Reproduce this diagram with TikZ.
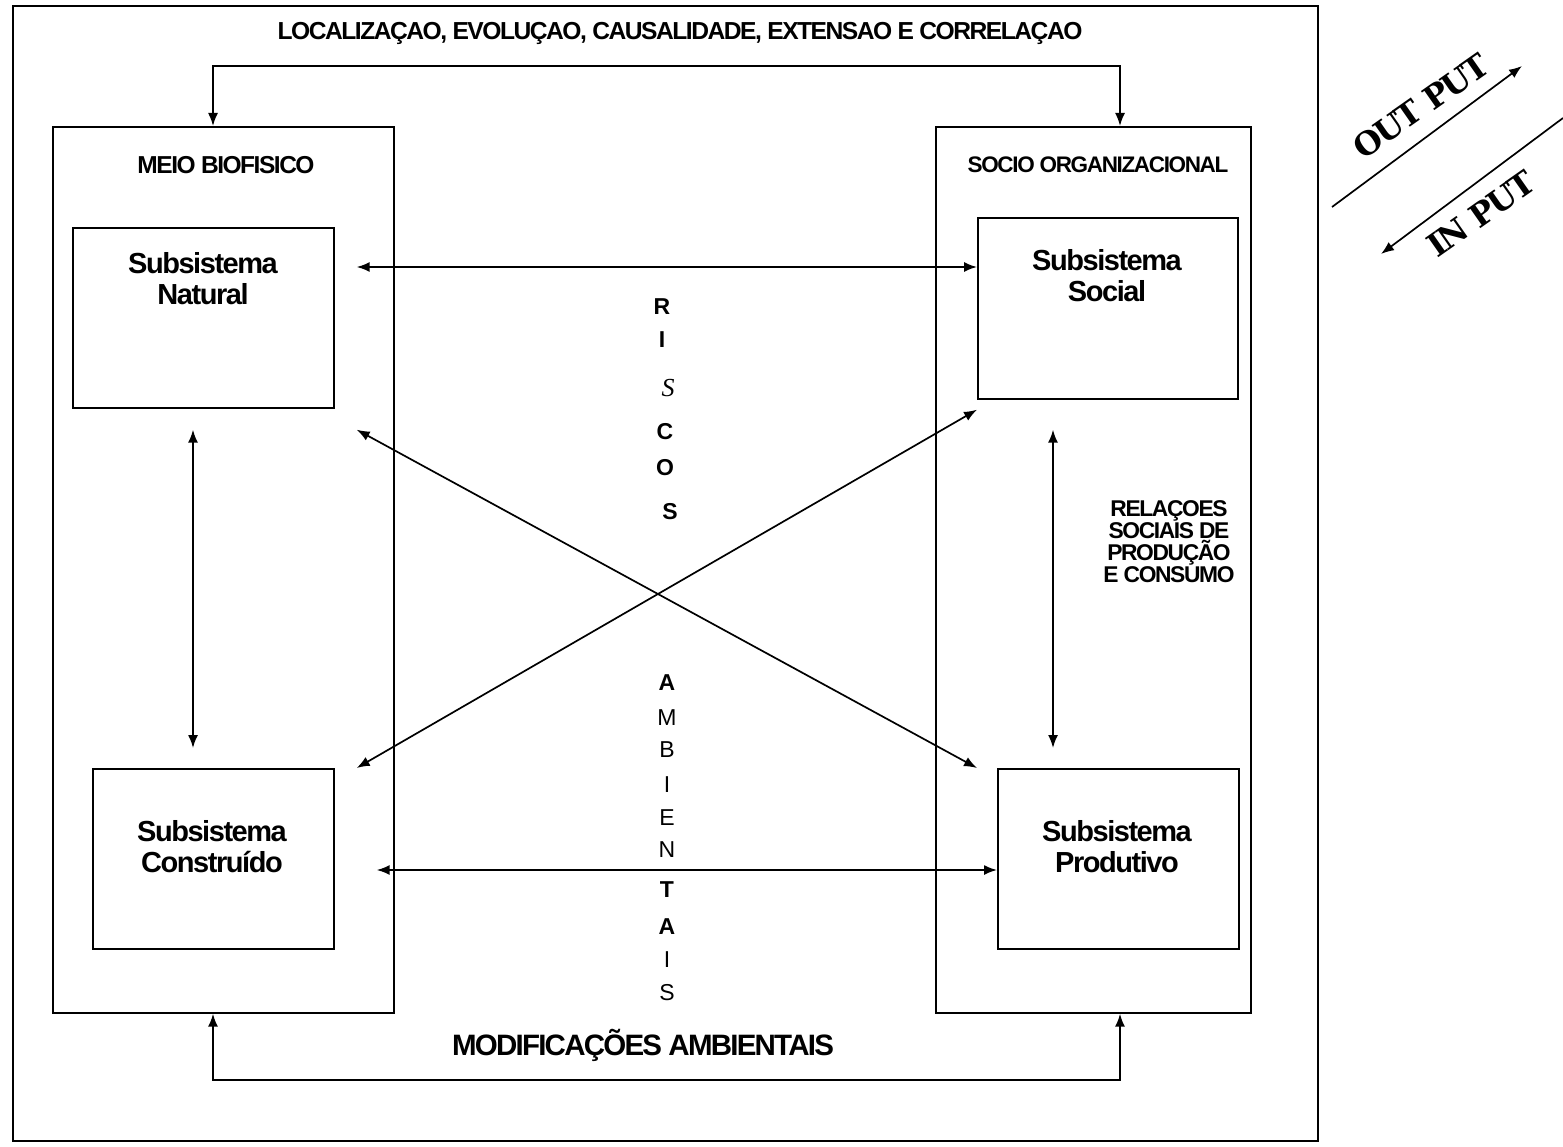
\documentclass[tikz,border=0pt]{standalone}
\usepackage{fontspec}
\setmainfont{Liberation Sans}
\newfontfamily\cnd[LetterSpace=-6]{Liberation Sans}
\newfontfamily\cndb[LetterSpace=-5]{Liberation Sans}
\newfontfamily\serifA{Liberation Serif}
\newfontfamily\serifB[LetterSpace=-6]{DejaVu Serif}
\usetikzlibrary{arrows.meta,calc}
\begin{document}
\begin{tikzpicture}[x=1pt,y=-1pt,line width=1.7pt,
  >={Latex[length=13pt,width=10pt]},
  box/.style={draw,rectangle,inner sep=0pt,anchor=north west},
  lbl/.style={inner sep=0pt,align=center},
  head/.style={lbl,font=\cnd\bfseries\fontsize{24.6}{26}\selectfont},
  sub/.style={lbl,font=\cndb\bfseries\fontsize{29}{31}\selectfont},
  let/.style={lbl,font=\fontsize{23}{24}\selectfont},
  letb/.style={lbl,font=\fontsize{23}{24}\selectfont\bfseries},
  io/.style={lbl,font=\serifB\bfseries\fontsize{32}{33}\selectfont,rotate=35}]
\useasboundingbox (0,0) rectangle (1563,1147);
% boxes
\node[box,minimum width=1305pt,minimum height=1135pt] (outer) at (12,5) {};
\node[box,minimum width=341pt,minimum height=886pt] (lbox) at (52,126) {};
\node[box,minimum width=315pt,minimum height=886pt] (rbox) at (935,126) {};
\node[box,minimum width=261pt,minimum height=180pt] (nat) at (72,227) {};
\node[box,minimum width=260pt,minimum height=181pt] (soc) at (977,217) {};
\node[box,minimum width=241pt,minimum height=180pt] (con) at (92,768) {};
\node[box,minimum width=241pt,minimum height=180pt] (pro) at (997,768) {};
% headings
\node[head] (title) at (680,33) {LOCALIZAÇAO, EVOLUÇAO, CAUSALIDADE, EXTENSAO E CORRELAÇAO};
\node[lbl,font=\cnd\bfseries\fontsize{24.5}{26}\selectfont] (meio) at (226,165) {MEIO BIOFISICO};
\node[lbl,font=\cnd\bfseries\fontsize{22.5}{24}\selectfont] (socio) at (1098,165) {SOCIO ORGANIZACIONAL};
\node[sub] (tnat) at (203,279) {Subsistema\\Natural};
\node[sub] (tsoc) at (1107,276) {Subsistema\\Social};
\node[sub] (tcon) at (212,847) {Subsistema\\Construído};
\node[sub] (tpro) at (1117,847) {Subsistema\\Produtivo};
\node[lbl,font=\cnd\bfseries\fontsize{22.8}{22}\selectfont] (rel) at (1169,542) {RELAÇOES\\SOCIAIS DE\\PRODUÇÃO\\E CONSUMO};
\node[lbl,font=\cnd\bfseries\fontsize{29.5}{30}\selectfont] (modif) at (643,1045) {MODIFICAÇÕES AMBIENTAIS};
% RISCOS
\node[letb] (r1) at (662,307) {R};
\node[letb] (r2) at (662,340) {I};
\node[lbl,font=\serifA\itshape\fontsize{26}{26}\selectfont] (r3) at (668,388) {S};
\node[letb] (r4) at (665,432) {C};
\node[letb] (r5) at (665,468) {O};
\node[letb] (r6) at (670,512) {S};
% AMBIENTAIS
\node[letb] (a1) at (667,683) {A};
\node[let] (a2) at (667,718) {M};
\node[let] (a3) at (667,750) {B};
\node[let] (a4) at (667,785) {I};
\node[let] (a5) at (667,818) {E};
\node[let] (a6) at (667,850) {N};
\node[letb] (a7) at (667,890) {T};
\node[letb] (a8) at (667,927) {A};
\node[let] (a9) at (667,960) {I};
\node[let] (a10) at (667,993) {S};
% connectors
\coordinate (topbar) at (680,66);
\coordinate (botbar) at (680,1080);
\draw[<->] ($(lbox.north west)+(161,0)$) |- (topbar) -| ($(rbox.north west)+(185,0)$);
\draw[<->] ($(lbox.south west)+(161,0)$) |- (botbar) -| ($(rbox.south west)+(185,0)$);
\draw[<->] ($(nat.north east)+(22,40)$) -- ($(soc.north west)+(0,50)$);
\draw[<->] ($(con.north east)+(42,102)$) -- ($(pro.north west)+(0,102)$);
\draw[<->] ($(nat.south west)+(121,21)$) -- ($(con.north west)+(101,-20)$);
\draw[<->] ($(soc.south west)+(76,30)$) -- ($(pro.north west)+(56,-20)$);
\draw[<->] ($(nat.south east)+(22,21)$) -- ($(pro.north west)+(-20,0)$);
\draw[<->] ($(con.north east)+(22,0)$) -- ($(soc.south west)+(0,10)$);
% output / input
\coordinate (o1) at (1332,207);
\coordinate (o2) at (1522,66);
\coordinate (i1) at (1563,118);
\coordinate (i2) at (1381,254);
\draw[->] (o1) -- (o2);
\draw[->] (i1) -- (i2);
\node[io] (out) at (1421,106) {OUT PUT};
\node[io] (inp) at (1481,214) {IN PUT};
\end{tikzpicture}
\end{document}
